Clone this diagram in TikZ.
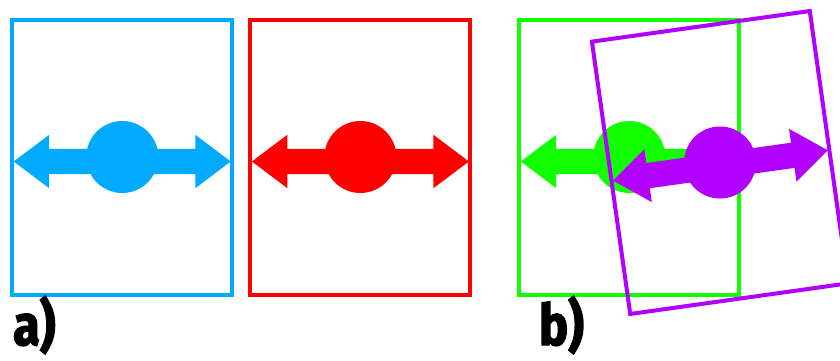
\documentclass[tikz,border=0pt]{standalone}
\usepackage{fontspec}
\setsansfont{Fira Sans}[FakeStretch=0.85,BoldFeatures={FakeBold=2.5}]
\usetikzlibrary{calc,shapes.arrows,positioning}
\definecolor{sky}{RGB}{0,170,255}
\definecolor{scarlet}{RGB}{255,0,0}
\definecolor{lime}{RGB}{17,255,0}
\definecolor{grape}{RGB}{178,0,255}

\begin{document}
\begin{tikzpicture}[x=1pt,y=1pt]

\tikzset{frame/.style={draw,line width=4pt,minimum width=220pt,minimum height=275pt,inner sep=0pt},
ball/.style={circle,inner sep=0pt,minimum size=72pt},
dblarrow/.style={double arrow,inner xsep=0pt,inner ysep=12.5pt,minimum height=217pt,double arrow head extend=14pt,double arrow tip angle=74},
panel/.style={font=\sffamily\bfseries\fontsize{57}{62}\selectfont,anchor=base west,inner sep=0pt}}

\useasboundingbox (0,0) rectangle (840,360);

% Upright frames with ball and arrow
\foreach \p/\x/\c in {a/122.25/sky, r/360.4/scarlet, g/629.3/lime} {
  \node[frame,draw=\c] (\p box) at (\x,203) {};
  \node[dblarrow,fill=\c] (\p arrow) at ($(\p box)+(0,-4.5)$) {};
  \node[ball,fill=\c] (\p ball) at (\p box) {};
}

% Tilted frame
\node[frame,draw=grape,rotate=8] (tbox) at (720,197.5) {};
\node[dblarrow,fill=grape,rotate=8] (tarrow) at ($(tbox)+(-82:3)$) {};
\node[ball,fill=grape] (tball) at (tbox) {};

% Labels
\node[panel] (la) at (13,15) {a)\kern2pt};
\node[panel] (lb) at (539,15) {b)\kern2pt};

\end{tikzpicture}
\end{document}
